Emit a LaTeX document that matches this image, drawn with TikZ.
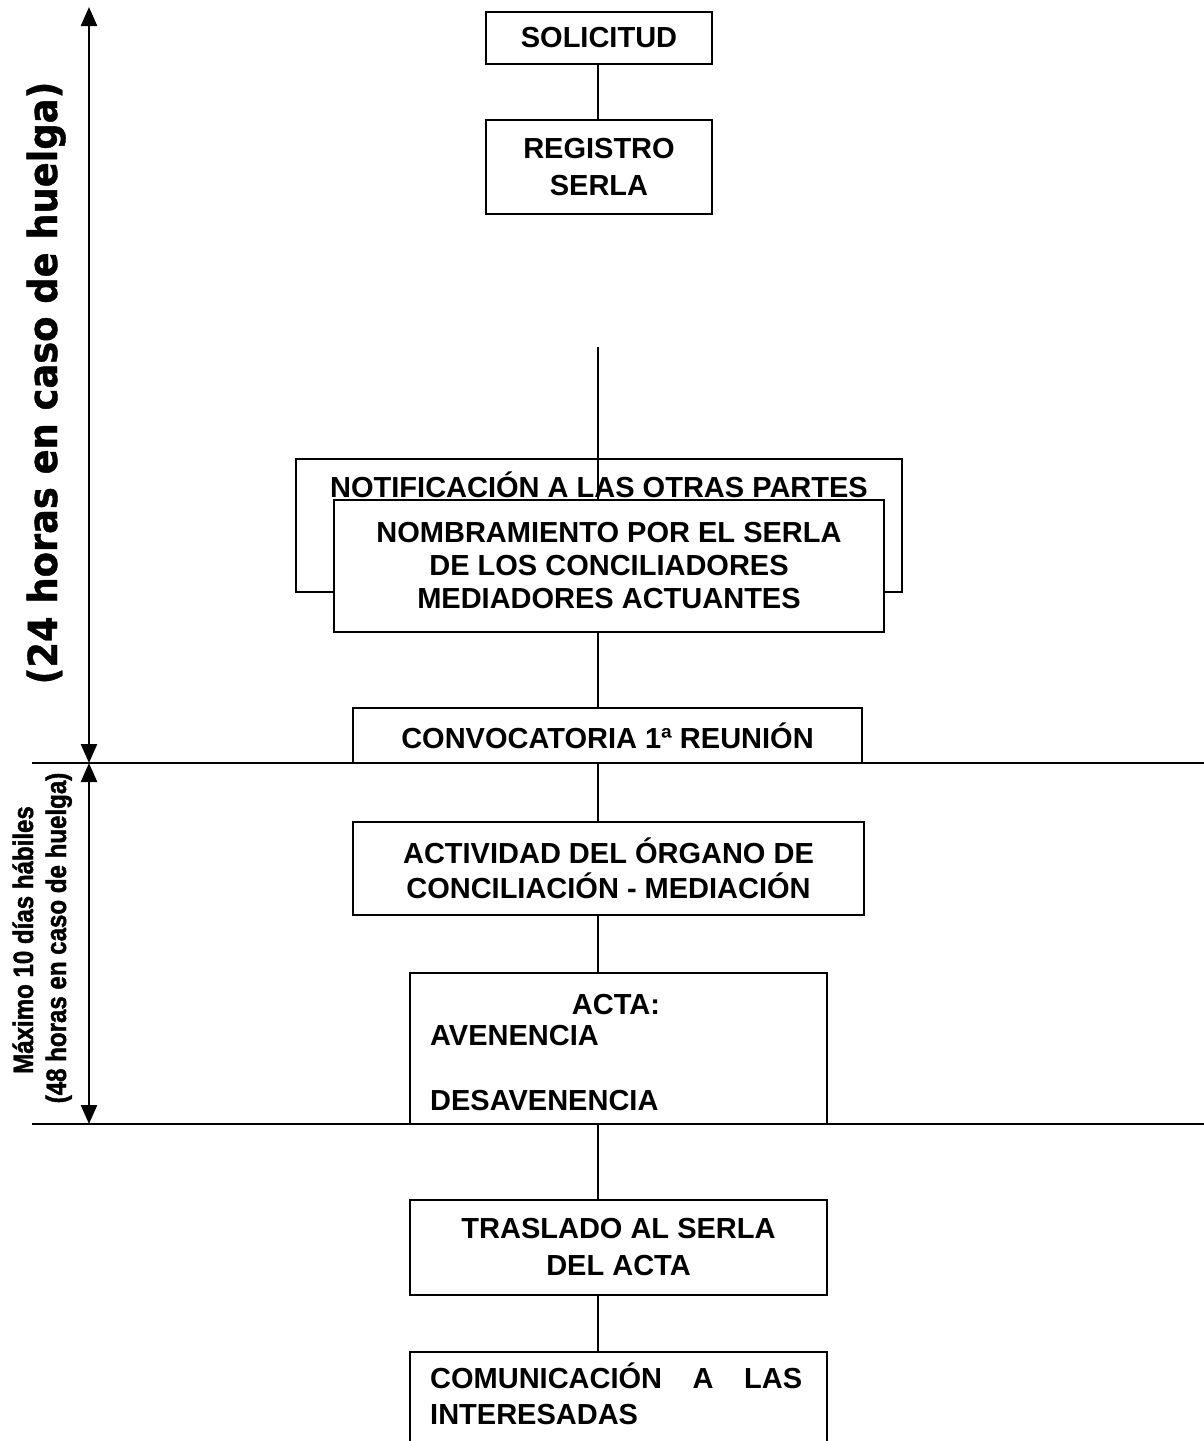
\documentclass[tikz,border=0pt]{standalone}
\usepackage{fontspec}
\setmainfont{Liberation Sans}
\newfontfamily\bigfont{DejaVu Sans Bold}[FakeStretch=0.92,FakeBold=1]
\newfontfamily\narrowfont{Liberation Sans Bold}[FakeStretch=0.86,FakeBold=1.5]
\usetikzlibrary{arrows.meta}
\begin{document}
\begin{tikzpicture}[x=1pt,y=-1pt,
  box/.style={draw, line width=1.8pt, fill=white, inner sep=0pt, align=center,
    font=\bfseries\fontsize{29}{37}\selectfont},
  txt/.style={inner sep=0pt, font=\bfseries\fontsize{29}{37}\selectfont},
  conn/.style={line width=1.3pt},
  hline/.style={line width=1.5pt},
  dim/.style={line width=2.5pt, {Triangle[width=16pt,length=19pt]}-{Triangle[width=16pt,length=19pt]}},
  sidelabel/.style={inner sep=0pt, rotate=90, anchor=base}]
\clip (0,0) rectangle (1204,1441);
\fill[white] (0,0) rectangle (1204,1441);
\coordinate (axis) at (598,0);

% horizontal separators
\coordinate (hl1) at (32,763);
\coordinate (hr1) at (1204,763);
\coordinate (hl2) at (32,1124);
\coordinate (hr2) at (1204,1124);
\draw[hline] (hl1) -- (hr1);
\draw[hline] (hl2) -- (hr2);

% boxes
\node[box, minimum width=226pt, minimum height=52pt] (solic) at (599,38) {SOLICITUD};
\node[box, minimum width=226pt, minimum height=94pt] (regis) at (599,167) {REGISTRO\\SERLA};

\node[box, minimum width=606pt, minimum height=133pt] (notif) at (599,525.5) {};
\node[txt, anchor=base] (notift) at (599,497.5) {NOTIFICACIÓN A LAS OTRAS PARTES};

\coordinate (free) at (598,347);
\node[box, minimum width=550pt, minimum height=132pt, font=\bfseries\fontsize{29}{33}\selectfont] (nomb) at (609,566)
  {NOMBRAMIENTO POR EL SERLA\\DE LOS CONCILIADORES\\MEDIADORES ACTUANTES};
\draw[conn] (free) -- (nomb.north -| axis);

\node[box, minimum width=509pt, minimum height=55pt] (conv) at (607.5,735.5) {CONVOCATORIA 1ª REUNIÓN};
\node[box, minimum width=511pt, minimum height=93pt, font=\bfseries\fontsize{29}{35}\selectfont] (activ) at (608.5,868.5)
  {ACTIVIDAD DEL ÓRGANO DE\\CONCILIACIÓN - MEDIACIÓN};

\node[box, minimum width=417pt, minimum height=151pt] (acta) at (618.5,1048.5) {};
\node[txt, anchor=base] (actat) at (616,1014.5) {ACTA:};
\node[txt, anchor=base west] (aven) at (430,1045.5) {AVENENCIA};
\node[txt, anchor=base west] (desav) at (430,1110.5) {DESAVENENCIA};

\node[box, minimum width=417pt, minimum height=95pt] (trasl) at (618.5,1247.5) {TRASLADO AL SERLA\\DEL ACTA};

\node[box, minimum width=417pt, minimum height=118pt] (comun) at (618.5,1411) {};
\node[txt, anchor=base west] (comA) at (430,1388.5) {\hbox to 372pt{COMUNICACIÓN\hfill A\hfill LAS}};
\node[txt, anchor=base west] (comB) at (430,1424.5) {INTERESADAS};

% connectors
\draw[conn] (solic.south -| axis) -- (regis.north -| axis);
\draw[conn] (nomb.south -| axis) -- (conv.north -| axis);
\draw[conn] (conv.south -| axis) -- (activ.north -| axis);
\draw[conn] (activ.south -| axis) -- (acta.north -| axis);
\draw[conn] (acta.south -| axis) -- (trasl.north -| axis);
\draw[conn] (trasl.south -| axis) -- (comun.north -| axis);

% left dimension arrows
\coordinate (a1t) at (89,7);
\coordinate (a1b) at (89,763);
\coordinate (a2b) at (89,1124);
\draw[dim] (a1t) -- (a1b);
\draw[dim] (a1b) -- (a2b);

\node[sidelabel, font=\bigfont\fontsize{40}{48}\selectfont] (lab1) at (57,383) {(24 horas en caso de huelga)};
\node[sidelabel, font=\narrowfont\fontsize{28}{33}\selectfont] (lab2a) at (33,940) {Máximo 10 días hábiles};
\node[sidelabel, font=\narrowfont\fontsize{28}{33}\selectfont] (lab2b) at (66,938) {(48 horas en caso de huelga)};
\end{tikzpicture}
\end{document}
